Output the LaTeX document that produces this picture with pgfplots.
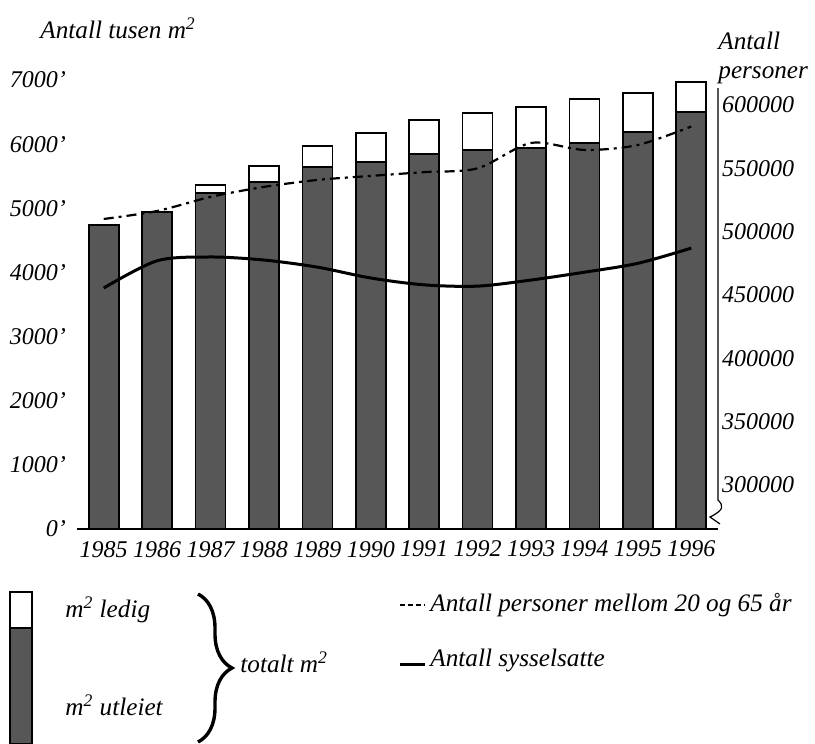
\documentclass[border=0pt]{standalone}
\usepackage{pgfplots}
\pgfplotsset{compat=1.18}
\usepackage{pgfplotstable}
\usepackage{fontspec}
\setmainfont{Liberation Serif}
\usetikzlibrary{decorations.pathreplacing}
\pgfplotstableread{
i utleiet ledig personer syss
0 4740 0 510000 455500
1 4940 0 516300 477000
2 5240 120 527400 480000
3 5410 250 535300 477600
4 5640 330 540800 472000
5 5720 450 544000 463400
6 5850 530 547000 458000
7 5910 580 550000 457000
8 5940 640 570000 461800
9 6020 680 564500 468000
10 6190 610 568400 475000
11 6500 470 583000 487000
}\data
\begin{document}
\begin{tikzpicture}[font=\itshape\fontsize{12.6}{14.5}\selectfont]
\path[use as bounding box] (0,0) rectangle (407.5pt,-372pt);
\begin{axis}[
  at={(38.5pt,-264.5pt)}, anchor=south west, scale only axis,
  width=320.5pt, height=224.5pt,
  xmin=-0.5, xmax=11.5, ymin=0, ymax=7000,
  axis x line*=bottom, axis y line*=left,
  y axis line style={draw=none},
  x axis line style={line width=0.8pt},
  ybar stacked, bar width=15pt,
  xtick={0,...,11},
  xticklabels={1985,1986,1987,1988,1989,1990,1991,1992,1993,1994,1995,1996},
  ytick={0,1000,2000,3000,4000,5000,6000,7000},
  yticklabels={0',1000',2000',3000',4000',5000',6000',7000'},
  major tick length=0pt,
  /pgf/number format/assume math mode=true,
  tick label style={font=\itshape\fontsize{12}{14}\selectfont},
  xticklabel style={yshift=-2.5pt},
  yticklabel style={xshift=-2pt},
]
\addplot[fill=black!66, draw=black, line width=0.8pt] table[x=i,y=utleiet]{\data};
\addplot[fill=white, draw=black, line width=0.8pt] table[x=i,y=ledig]{\data};
\end{axis}
\begin{axis}[
  at={(38.5pt,-264.5pt)}, anchor=south west, scale only axis,
  width=320.5pt, height=224.5pt,
  xmin=-0.5, xmax=11.5, ymin=265300, ymax=619700,
  hide x axis, axis y line*=right,
  y axis line style={draw=none},
  ytick={300000,350000,400000,450000,500000,550000,600000},
  yticklabels={300000,350000,400000,450000,500000,550000,600000},
  scaled y ticks=false,
  major tick length=0pt,
  /pgf/number format/assume math mode=true,
  tick label style={font=\itshape\fontsize{12}{14}\selectfont},
  yticklabel style={anchor=west, xshift=-1.5pt},
]
\addplot[smooth, black, line width=1.1pt, dash pattern=on 5pt off 2.5pt on 1.5pt off 2.5pt] table[x=i,y=personer]{\data};
\addplot[smooth, black, line width=1.5pt] table[x=i,y=syss]{\data};
\end{axis}
% right axis line with break
\draw[line width=0.6pt] (359pt,-44pt) -- (359pt,-250pt)
  .. controls (362pt,-253pt) and (362pt,-255pt) .. (355pt,-258.5pt)
  -- (360pt,-262pt);
% titles
\node[anchor=west, inner sep=0] at (20pt,-14pt) {Antall tusen m\textsuperscript{2}};
\node[anchor=north west, inner sep=0, align=left] at (359pt,-16pt) {Antall\\[0pt]personer};
% legend
\draw[line width=0.6pt, fill=white] (5pt,-296pt) rectangle (16pt,-314pt);
\draw[line width=0.6pt, fill=black!66] (5pt,-314pt) rectangle (16pt,-372pt);
\node[anchor=west, inner sep=0] at (32.5pt,-305pt) {m\textsuperscript{2} ledig};
\node[anchor=west, inner sep=0] at (32.5pt,-352.5pt) {m\textsuperscript{2} utleiet};
\draw[decorate, decoration={brace, amplitude=17pt}, line width=1.7pt] (99pt,-297pt) -- (99pt,-371pt);
\node[anchor=west, inner sep=0] at (120pt,-331pt) {totalt m\textsuperscript{2}};
\draw[line width=1.1pt, dash pattern=on 2.5pt off 1.5pt] (200pt,-302.5pt) -- (212.5pt,-302.5pt);
\node[anchor=west, inner sep=0] at (215pt,-302.5pt) {Antall personer mellom 20 og 65 år};
\draw[line width=1.5pt] (200pt,-332pt) -- (212.5pt,-332pt);
\node[anchor=west, inner sep=0] at (215pt,-330pt) {Antall sysselsatte};
\end{tikzpicture}
\end{document}
